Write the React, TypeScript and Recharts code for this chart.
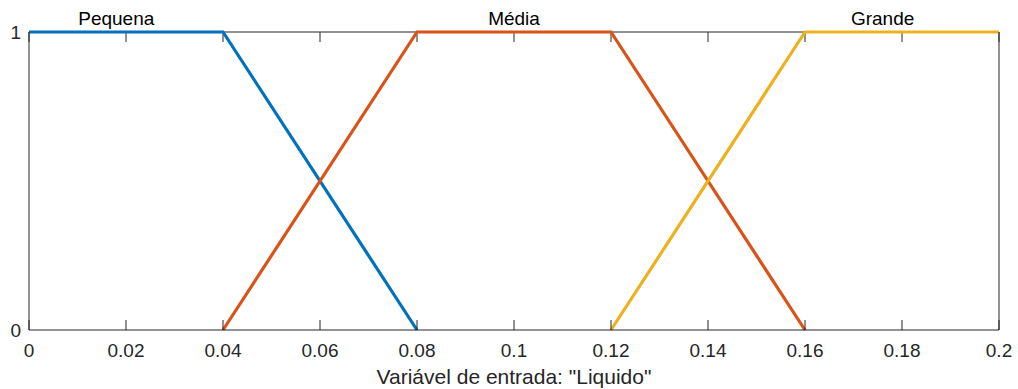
import React from 'react';
import { LineChart, Line, XAxis, YAxis, ReferenceDot, ReferenceLine } from 'recharts';

const xTicks = [0, 0.02, 0.04, 0.06, 0.08, 0.1, 0.12, 0.14, 0.16, 0.18, 0.2];
const xTickLabels = ['0', '0.02', '0.04', '0.06', '0.08', '0.1', '0.12', '0.14', '0.16', '0.18', '0.2'];
const yTicks = [0, 1];

const pequenaX = [0, 0.04, 0.08];
const pequenaY = [1, 1, 0];
const mediaX = [0.04, 0.08, 0.12, 0.16];
const mediaY = [0, 1, 1, 0];
const grandeX = [0.12, 0.16, 0.2];
const grandeY = [0, 1, 1];

const mfNames = ['Pequena', 'Média', 'Grande'];
const mfLabelX = [0.018, 0.1, 0.176];
const mfColors = ['#0072BD', '#D95319', '#EDB120'];

const xLabel = 'Variável de entrada: "Liquido"';

const toData = (xs: number[], ys: number[]) => xs.map((x, i) => ({ x, y: ys[i] }));
const series = [toData(pequenaX, pequenaY), toData(mediaX, mediaY), toData(grandeX, grandeY)];

const FONT = '"Liberation Sans", Arial, Helvetica, sans-serif';
const TXT = '#262626';
const AX = '#262626';
// inward tick length on the top edge, as a fraction of the y range (≈10px of 298px)
const TOP_TICK = 10 / 298;
const topTickData = xTicks.map((t) => [
  { x: t, y: 1 },
  { x: t, y: 1 - TOP_TICK },
]);

const fmtX = (v: number) => {
  const i = xTicks.findIndex((t) => Math.abs(t - v) < 1e-9);
  return i >= 0 ? xTickLabels[i] : String(v);
};

export default function App() {
  return (
    <div style={{ position: 'absolute', left: 0, top: 0, fontFamily: FONT, background: '#fff' }}>
      <LineChart width={1018} height={389} margin={{ top: 32, right: 18, bottom: 0, left: 0 }}>
        <XAxis
          xAxisId={0}
          dataKey="x"
          type="number"
          domain={[0, 0.2]}
          ticks={xTicks}
          tickFormatter={fmtX}
          allowDuplicatedCategory={false}
          height={59}
          tickSize={-10}
          tickMargin={24}
          stroke={AX}
          tick={{ fontSize: 19, fill: TXT, fontFamily: FONT }}
          interval={0}
          label={{ value: xLabel, position: 'insideBottom', offset: 5, fontSize: 21, fill: TXT, fontFamily: FONT }}
        />
        <YAxis
          yAxisId={0}
          type="number"
          domain={[0, 1]}
          ticks={yTicks}
          width={29}
          tickSize={0}
          tickLine={false}
          tickMargin={8}
          stroke={AX}
          tick={{ fontSize: 19, fill: TXT, fontFamily: FONT }}
          interval={0}
        />
        <YAxis
          yAxisId="right"
          orientation="right"
          type="number"
          domain={[0, 1]}
          ticks={yTicks}
          width={1}
          tick={{ fill: 'none', fontSize: 1 }}
          tickLine={false}
          stroke={AX}
        />
        <ReferenceLine y={1} xAxisId={0} yAxisId={0} stroke={AX} strokeWidth={1} />
        {topTickData.map((d, i) => (
          <Line
            key={'tt' + i}
            data={d}
            dataKey="y"
            xAxisId={0}
            yAxisId={0}
            type="linear"
            stroke={AX}
            strokeWidth={1}
            dot={false}
            activeDot={false}
            legendType="none"
            isAnimationActive={false}
          />
        ))}
        {series.map((d, i) => (
          <Line
            key={mfNames[i]}
            data={d}
            dataKey="y"
            xAxisId={0}
            yAxisId={0}
            type="linear"
            stroke={mfColors[i]}
            strokeWidth={3.2}
            dot={false}
            activeDot={false}
            isAnimationActive={false}
          />
        ))}
        {mfNames.map((name, i) => (
          <ReferenceDot
            key={'lbl' + name}
            x={mfLabelX[i]}
            y={1}
            xAxisId={0}
            yAxisId={0}
            r={0}
            fill="none"
            stroke="none"
            label={{ value: name, position: 'top', offset: 7, fontSize: 19, fill: '#000', fontFamily: FONT }}
          />
        ))}
      </LineChart>
    </div>
  );
}
